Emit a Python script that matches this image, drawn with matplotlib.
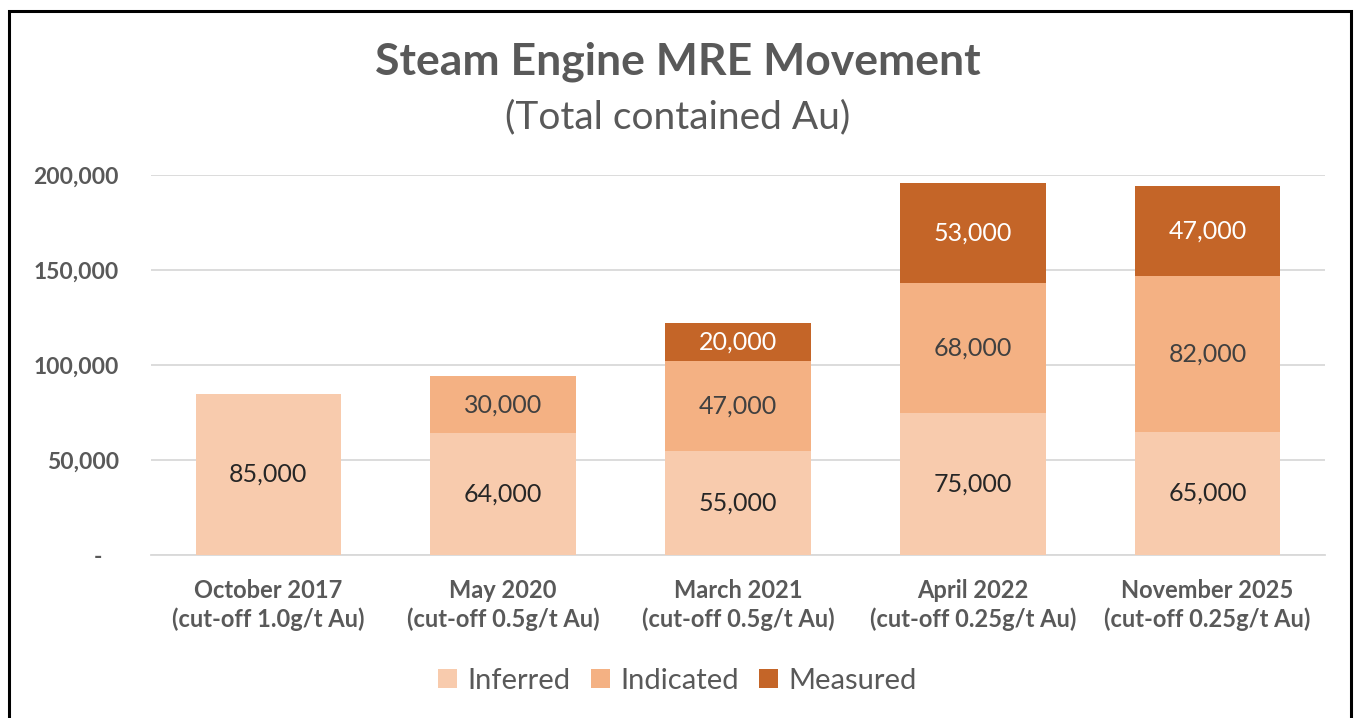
import matplotlib.pyplot as plt
from matplotlib.patches import Rectangle

# Dados
categorias = ["October 2017\n(cut-off 1.0g/t Au)", "May 2020\n(cut-off 0.5g/t Au)",
              "March 2021\n(cut-off 0.5g/t Au)", "April 2022\n(cut-off 0.25g/t Au)",
              "November 2025\n(cut-off 0.25g/t Au)"]
inferred = [85000, 64000, 55000, 75000, 65000]
indicated = [0, 30000, 47000, 68000, 82000]
measured = [0, 0, 20000, 53000, 47000]
yticks = [0, 50000, 100000, 150000, 200000]

plt.rcParams["font.family"] = ["Lato", "DejaVu Sans"]
cinza = "#595959"

fig = plt.figure(figsize=(13.55, 7.18), dpi=100)
ax = fig.add_axes([151 / 1355, 1 - 555 / 718, (1325 - 151) / 1355, (555 - 175) / 718])

x = range(len(categorias))
w = 0.62
b1 = ax.bar(x, inferred, w, color="#F8CBAD", label="Inferred", zorder=3)
b2 = ax.bar(x, indicated, w, bottom=inferred, color="#F4B183", label="Indicated", zorder=3)
base3 = [a + b for a, b in zip(inferred, indicated)]
b3 = ax.bar(x, measured, w, bottom=base3, color="#C46528", label="Measured", zorder=3)

# Rótulos dos valores no meio de cada segmento
for barras, cor in [(b1, "#262626"), (b2, "#404040"), (b3, "white")]:
    for r in barras:
        h = r.get_height()
        if h > 0:
            ax.text(r.get_x() + r.get_width() / 2, r.get_y() + h / 2, f"{h:,.0f}",
                    ha="center", va="center", fontsize=18, color=cor, zorder=4)

ax.set_ylim(0, 200000)
ax.set_xlim(-0.5, 4.5)
ax.set_yticks(yticks)
ax.set_yticklabels(["-   " if v == 0 else f"{v:,.0f}" for v in yticks], fontweight="bold")
ax.grid(axis="y", color="#D9D9D9", lw=1.3, zorder=0)
for s in ["top", "right", "left"]:
    ax.spines[s].set_visible(False)
ax.spines["bottom"].set_color("#D9D9D9")
ax.spines["bottom"].set_linewidth(1.3)
ax.tick_params(axis="y", length=0, pad=23, labelsize=16.5, labelcolor=cinza)
ax.tick_params(axis="x", length=0, pad=17, labelsize=17, labelcolor=cinza)
ax.set_xticks(list(x))
ax.set_xticklabels(categorias, fontweight="bold", linespacing=1.3)

# Títulos
fig.text(0.5, 1 - 62 / 718, "Steam Engine MRE Movement", ha="center", va="center",
         fontsize=32, fontweight="bold", color=cinza)
fig.text(0.5, 1 - 117 / 718, "(Total contained Au)", ha="center", va="center",
         fontsize=28, color=cinza)

leg = fig.legend(loc="center", bbox_to_anchor=(0.5, 1 - 681 / 718), ncol=3, frameon=False,
                 fontsize=21, handlelength=0.65, handleheight=0.65, handletextpad=0.35,
                 columnspacing=0.7)
for t in leg.get_texts():
    t.set_color(cinza)

# Moldura do gráfico
fig.patches.append(Rectangle((9 / 1355, -0.05), (1351 - 9) / 1355, 1.05 - 11 / 718,
                             transform=fig.transFigure, fill=False, ec="black", lw=2.2))

plt.savefig("out.png", dpi=100)
plt.close()
